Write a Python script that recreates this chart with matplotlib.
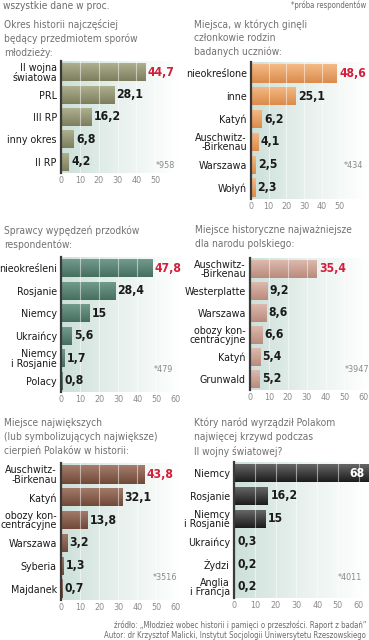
import matplotlib
matplotlib.use('Agg')
import matplotlib.pyplot as plt
from matplotlib import font_manager
from matplotlib.font_manager import FontProperties
from matplotlib.colors import LinearSegmentedColormap
import numpy as np

W, H = 369, 640

# look for a narrow face, else fall back to Roboto
reg_file, bold_file = None, None
for f in font_manager.fontManager.ttflist:
    base = f.fname.split('/')[-1].lower()
    if ('narrow' in base or 'condensed' in base) and 'italic' not in base and 'oblique' not in base:
        if 'bold' in base and bold_file is None:
            bold_file = f.fname
        elif 'bold' not in base and reg_file is None:
            reg_file = f.fname

if reg_file and bold_file:
    REG = FontProperties(fname=reg_file)
    BOLD = FontProperties(fname=bold_file)
    k = 1.12
else:
    REG = FontProperties(family='Roboto')
    BOLD = FontProperties(family='Roboto', weight='bold')
    k = 1.0

plt.rcParams['font.family'] = ['Roboto', 'DejaVu Sans']

# --- data ---------------------------------------------------------------
t1 = 'Okres historii najczęściej\nbędący przedmiotem sporów\nmłodzieży:'
c1 = ['II wojna\nświatowa', 'PRL', 'III RP', 'inny okres', 'II RP']
v1 = [44.7, 28.1, 16.2, 6.8, 4.2]
n1 = '*958'

t2 = 'Miejsca, w których ginęli\nczłonkowie rodzin\nbadanych uczniów:'
c2 = ['nieokreślone', 'inne', 'Katyń', 'Auschwitz-\n-Birkenau', 'Warszawa', 'Wołyń']
v2 = [48.6, 25.1, 6.2, 4.1, 2.5, 2.3]
n2 = '*434'

t3 = 'Sprawcy wypędzeń przodków\nrespondentów:'
c3 = ['nieokreśleni', 'Rosjanie', 'Niemcy', 'Ukraińcy', 'Niemcy\ni Rosjanie', 'Polacy']
v3 = [47.8, 28.4, 15, 5.6, 1.7, 0.8]
n3 = '*479'

t4 = 'Miejsce historyczne najważniejsze\ndla narodu polskiego:'
c4 = ['Auschwitz-\n-Birkenau', 'Westerplatte', 'Warszawa', 'obozy kon-\ncentracyjne', 'Katyń', 'Grunwald']
v4 = [35.4, 9.2, 8.6, 6.6, 5.4, 5.2]
n4 = '*3947'

t5 = 'Miejsce największych\n(lub symbolizujących największe)\ncierpień Polaków w historii:'
c5 = ['Auschwitz-\n-Birkenau', 'Katyń', 'obozy kon-\ncentracyjne', 'Warszawa', 'Syberia', 'Majdanek']
v5 = [43.8, 32.1, 13.8, 3.2, 1.3, 0.7]
n5 = '*3516'

t6 = 'Który naród wyrządził Polakom\nnajwięcej krzywd podczas\nII wojny światowej?'
c6 = ['Niemcy', 'Rosjanie', 'Niemcy\ni Rosjanie', 'Ukraińcy', 'Żydzi', 'Anglia\ni Francja']
v6 = [68, 16.2, 15, 0.3, 0.2, 0.2]
n6 = '*4011'

ticks50 = [0, 10, 20, 30, 40, 50]
ticks60 = [0, 10, 20, 30, 40, 50, 60]

fig = plt.figure(figsize=(W / 100, H / 100), dpi=100)
fig.patch.set_facecolor('white')

def fx(px):
    return px / W

def fy(py):
    return 1 - py / H

def fp(base, size):
    p = base.copy()
    p.set_size(size * k)
    return p

RED = '#d21f3c'
TXT = '#1a1a1a'
bgmap = LinearSegmentedColormap.from_list('bg', ['#cde0da', '#e8f1ee', '#ffffff'])

def panel(box, xmax, cats, vals, ticks, colors, note, note_xy, title, title_xy,
          first_inside=False):
    x0, y0, x1, y1 = box
    ax = fig.add_axes([fx(x0), fy(y1), fx(x1) - fx(x0), (y1 - y0) / H])
    n = len(cats)
    ypos = np.arange(n)
    # background gradient
    ax.imshow(np.linspace(0, 1, 200)[None, :], extent=[0, xmax, n - 0.5, -0.5],
              aspect='auto', cmap=bgmap, zorder=0)
    cmap = LinearSegmentedColormap.from_list('b', colors)
    bars = ax.barh(ypos, vals, height=0.8, color=colors[1], zorder=2)
    for b in bars:
        im = ax.imshow(np.linspace(0, 1, 50)[:, None], cmap=cmap, aspect='auto',
                       extent=[0, b.get_width(), b.get_y() + b.get_height(), b.get_y()],
                       zorder=3)
        im.set_clip_path(b)
    for t in ticks[1:]:
        ax.axvline(t, color='white', lw=0.8, alpha=0.5, zorder=4)
    ax.set_xlim(0, xmax)
    ax.set_ylim(n - 0.5, -0.5)
    ax.set_xticks(ticks)
    ax.set_xticklabels([str(t) for t in ticks])
    for lb in ax.get_xticklabels():
        lb.set_fontproperties(fp(REG, 5.8))
    ax.tick_params(axis='x', length=0, colors='#8a8a8a', pad=2.5)
    ax.set_yticks(ypos)
    ax.set_yticklabels(cats, color=TXT, linespacing=0.92)
    for lb in ax.get_yticklabels():
        lb.set_fontproperties(fp(REG, 6.8))
    ax.tick_params(axis='y', length=0, pad=3)
    for s in ['top', 'right', 'bottom']:
        ax.spines[s].set_visible(False)
    ax.spines['left'].set_color('#3a3a3a')
    ax.spines['left'].set_linewidth(1.6)
    ax.spines['left'].set_zorder(5)
    for i, v in enumerate(vals):
        lab = ('%g' % v).replace('.', ',')
        if i == 0 and first_inside:
            ax.text(min(v, xmax) - 0.8, i, lab, ha='right', va='center', color='white',
                    fontproperties=fp(BOLD, 7.8), zorder=6)
        else:
            ax.text(min(v, xmax) + xmax * 0.02, i, lab, ha='left', va='center',
                    color=RED if i == 0 else TXT,
                    fontproperties=fp(BOLD, 7.8), zorder=6)
    fig.text(fx(note_xy[0]), fy(note_xy[1]), note, fontproperties=fp(REG, 5.8),
             color='#8a8a8a', ha='center', va='center')
    fig.text(fx(title_xy[0]), fy(title_xy[1]), title, fontproperties=fp(REG, 6.5),
             color='#707070', ha='left', va='top', linespacing=1.45)
    return ax

panel((61, 61, 178, 173), 62, c1, v1, ticks50, ['#adaf8f', '#7c7e5c'], n1, (165, 165),
      t1, (4, 19))
panel((251, 62, 366, 199), 65, c2, v2, ticks50, ['#f4ba86', '#db8b4b'], n2, (353, 165),
      t2, (194, 19))
panel((61, 257, 181, 392), 63, c3, v3, ticks60, ['#739b8d', '#476f5f'], n3, (163, 370),
      t3, (4, 225))
panel((250, 258, 369, 390), 63, c4, v4, ticks60, ['#dcb9ad', '#b98b7c'], n4, (357, 370),
      t4, (195, 225))
panel((61, 463, 181, 600), 63, c5, v5, ticks60, ['#a67d6c', '#70493a'], n5, (165, 577),
      t5, (4, 418))
panel((234, 462, 366, 598), 63.5, c6, v6, ticks60, ['#6a6a6a', '#1c1c1c'], n6, (350, 577),
      t6, (194, 418), first_inside=True)

fig.text(fx(3), fy(6), 'wszystkie dane w proc.', fontproperties=fp(REG, 6.5),
         color='#6a6a6a', ha='left', va='center')
fig.text(fx(366), fy(5), '*próba respondentów', fontproperties=fp(REG, 5.0),
         color='#6a6a6a', ha='right', va='center')
fig.text(fx(366), fy(625), 'źródło: „Młodzież wobec historii i pamięci o przeszłości. Raport z badań”',
         fontproperties=fp(REG, 5.0), color='#6a6a6a', ha='right', va='center')
fig.text(fx(366), fy(635), 'Autor: dr Krzysztof Malicki, Instytut Socjologii Uniwersytetu Rzeszowskiego',
         fontproperties=fp(REG, 5.0), color='#6a6a6a', ha='right', va='center')

fig.savefig('out.png', dpi=100)
